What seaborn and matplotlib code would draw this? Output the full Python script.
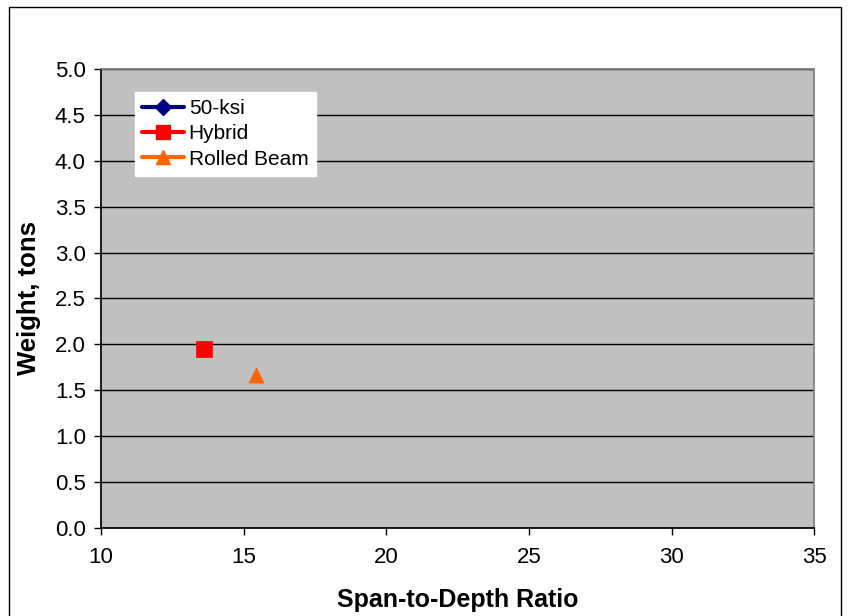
import matplotlib
matplotlib.use("Agg")
import matplotlib.pyplot as plt
import matplotlib.patches as mpatches
import seaborn as sns
import pandas as pd

# ── data ──────────────────────────────────────────────────────────────────────
series = ["50-ksi", "Hybrid", "Rolled Beam"]
span_depth = [13.6, 13.6, 15.45]
weight_tons = [1.94, 1.95, 1.67]

df = pd.DataFrame({"series": series, "ratio": span_depth, "weight": weight_tons})

sns.set_theme(style="white")
plt.rcParams["font.family"] = ["Liberation Sans", "DejaVu Sans"]
plt.rcParams["text.color"] = "black"
plt.rcParams["axes.labelcolor"] = "black"
plt.rcParams["xtick.color"] = "black"
plt.rcParams["ytick.color"] = "black"

colors  = {"50-ksi": "#000080", "Hybrid": "#FF0000", "Rolled Beam": "#FF6600"}
markers = {"50-ksi": "D", "Hybrid": "s", "Rolled Beam": "^"}
sizes   = {"50-ksi": 45, "Hybrid": 120, "Rolled Beam": 120}

fig = plt.figure(figsize=(8.49, 6.16), dpi=100)
ax = fig.add_axes([0.119, 0.143, 0.840, 0.745])

for name in series:
    sub = df[df["series"] == name]
    sns.scatterplot(data=sub, x="ratio", y="weight", marker=markers[name],
                    color=colors[name], s=sizes[name], edgecolor=colors[name],
                    linewidth=0.5, ax=ax, zorder=3)

ax.set_facecolor("#C0C0C0")
ax.set_xlim(10, 35)
ax.set_ylim(0, 5)
ax.set_xticks(range(10, 36, 5))
ax.set_yticks([i / 2 for i in range(11)])
ax.set_yticklabels([f"{i / 2:.1f}" for i in range(11)])
ax.yaxis.grid(True, color="black", linewidth=1)
ax.set_axisbelow(True)
ax.tick_params(axis="both", labelsize=16, direction="out", length=5,
               width=1, color="black", bottom=True, left=True)
ax.tick_params(axis="x", pad=9)
ax.tick_params(axis="y", pad=6)
for side in ["top", "right"]:
    ax.spines[side].set_color("#808080")
for side in ["left", "bottom"]:
    ax.spines[side].set_color("black")

ax.set_xlabel("Span-to-Depth Ratio", fontsize=18, fontweight="bold", labelpad=14)
ax.set_ylabel("Weight, tons", fontsize=18.5, fontweight="bold", labelpad=10)

handles = [plt.Line2D([0], [0], color=colors[n], marker=markers[n], lw=3,
                      markersize=10 if n != "50-ksi" else 8, label=n)
           for n in series]
leg = ax.legend(handles=handles, loc="upper left", bbox_to_anchor=(0.047, 0.95),
                fontsize=15, frameon=True, fancybox=False, framealpha=1,
                edgecolor="white", borderpad=0.35, handlelength=2.0,
                handletextpad=0.25, labelspacing=0.3, borderaxespad=0)

# outer chart border
fig.patches.append(mpatches.Rectangle((9 / 849, -0.01), 832 / 849, 1 - 7 / 616 + 0.01,
                                      transform=fig.transFigure, fill=False,
                                      edgecolor="black", linewidth=1))

plt.savefig("out.png", dpi=100)
plt.close()
